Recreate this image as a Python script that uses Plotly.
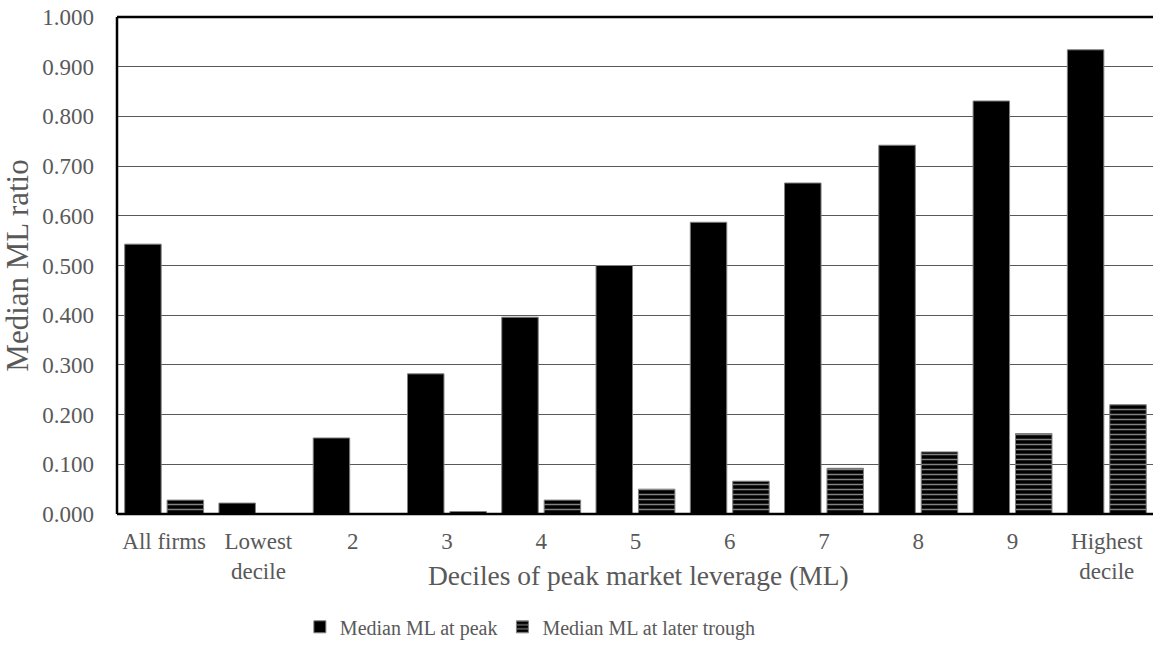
import plotly.graph_objects as go

categories = ["All firms", "Lowest<br>decile", "2", "3", "4", "5", "6", "7", "8", "9", "Highest<br>decile"]
peak_ml = [0.543, 0.022, 0.153, 0.282, 0.396, 0.500, 0.587, 0.666, 0.742, 0.831, 0.934]
trough_ml = [0.028, 0.000, 0.001, 0.005, 0.028, 0.050, 0.066, 0.092, 0.125, 0.162, 0.220]
y_ticks = [0.0, 0.1, 0.2, 0.3, 0.4, 0.5, 0.6, 0.7, 0.8, 0.9, 1.0]

FONT = "Liberation Serif, Times New Roman, serif"
TEXT = "#595959"

x = list(range(len(categories)))

fig = go.Figure()
fig.add_trace(go.Bar(
    x=x, y=peak_ml, name="Median ML at peak",
    marker=dict(color="black", line=dict(color="#808080", width=1)),
))
fig.add_trace(go.Bar(
    x=x, y=trough_ml, name="Median ML at later trough",
    marker=dict(color="black", line=dict(color="#808080", width=1),
                pattern=dict(shape="-", fgcolor="white", bgcolor="black",
                             size=5, solidity=0.3, fillmode="overlay")),
))

fig.update_layout(
    width=1153, height=647,
    margin=dict(l=117, r=0, t=17, b=133),
    paper_bgcolor="white", plot_bgcolor="white",
    barmode="group", bargap=0.10, bargroupgap=0.14,
    font=dict(family=FONT, size=23, color=TEXT),
    showlegend=True,
    legend=dict(orientation="h", x=0.399, xanchor="center", y=-0.227, yanchor="middle",
                font=dict(size=20, color=TEXT), itemwidth=30, tracegroupgap=0),
    xaxis=dict(
        tickmode="array", tickvals=x, ticktext=categories,
        range=[-0.5, 10.49], showgrid=False, ticks="", showline=False,
        tickfont=dict(size=23, color=TEXT), ticklabelstandoff=11,
    ),
    yaxis=dict(
        range=[0, 1.0], tickvals=y_ticks, tickformat=".3f",
        showgrid=True, gridcolor="#595959", gridwidth=1,
        zeroline=False, showline=False, ticks="",
        tickfont=dict(size=23, color=TEXT), ticklabelstandoff=22,
        title=dict(text="Median ML ratio", font=dict(size=31, color=TEXT), standoff=4),
    ),
    annotations=[
        # x-axis title, set between the two rows of category labels
        dict(text="Deciles of peak market leverage (ML)", xref="paper", yref="paper",
             x=0.503, y=-0.1247, xanchor="center", yanchor="middle", showarrow=False,
             font=dict(size=27.5, color=TEXT)),
    ],
    shapes=[
        dict(type="line", xref="paper", yref="paper", x0=0, x1=1, y0=0, y1=0,
             line=dict(color="black", width=2.5)),
        dict(type="line", xref="paper", yref="paper", x0=0, x1=1, y0=1, y1=1,
             line=dict(color="black", width=2.5)),
        dict(type="line", xref="paper", yref="paper", x0=0, x1=0, y0=0, y1=1,
             line=dict(color="black", width=2.5)),
    ],
)

fig.write_html("out.html")
